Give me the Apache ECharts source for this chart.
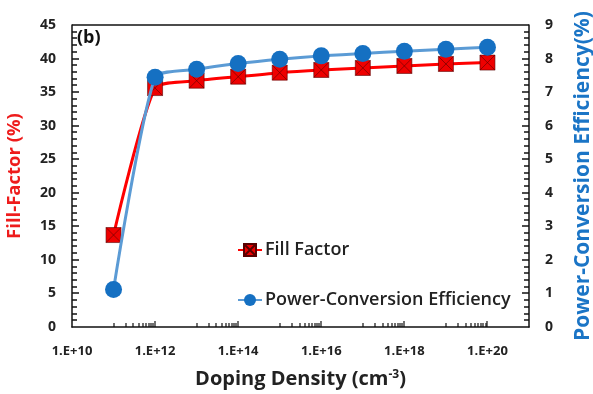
<!DOCTYPE html>
<html>
<head>
<meta charset="utf-8">
<script src="https://cdn.jsdelivr.net/npm/echarts@6/dist/echarts.min.js"></script>
<style>
  html, body { margin: 0; padding: 0; background: #fff; }
  #chart { width: 593px; height: 394px; }
</style>
</head>
<body>
<div id="chart"></div>
<script>
// doping density (cm^-3)
const doping = [1e11, 1e12, 1e13, 1e14, 1e15, 1e16, 1e17, 1e18, 1e19, 1e20]
// fill factor (%) - left axis
const fillFactor = [13.7, 35.6, 36.7, 37.3, 37.9, 38.3, 38.6, 38.9, 39.2, 39.4]
// power-conversion efficiency (%) - right axis
const pce = [1.12, 7.44, 7.68, 7.85, 7.98, 8.08, 8.15, 8.22, 8.28, 8.34]

const font = '"Open Sans", sans-serif'
const myChart = echarts.init(document.getElementById('chart'))

const option = {
  animation: false,
  grid: { left: 72, right: 64, top: 25, bottom: 67, containLabel: false, outerBoundsMode: 'none' },
  graphic: [],
  legend: {
    orient: 'vertical',
    left: 232,
    top: 236,
    itemGap: 32,
    itemWidth: 24,
    itemHeight: 15,
    textStyle: { fontFamily: font, fontSize: 18, fontWeight: 600, color: '#222', padding: [0, 0, 0, -2] },
    data: ['Fill Factor', 'Power-Conversion Efficiency']
  },
  xAxis: {
    type: 'value',
    min: 10,
    max: 21,
    interval: 2,
    name: 'Doping Density (cm{sup|-3})',
    nameLocation: 'middle',
    nameGap: 42,
    nameTextStyle: {
      fontFamily: font, fontSize: 20, fontWeight: 'bold', color: '#222',
      rich: { sup: { fontFamily: font, fontSize: 12, fontWeight: 'bold', color: '#222', verticalAlign: 'top', padding: [0, 0, 9, 0] } }
    },
    axisLine: { show: true, lineStyle: { color: '#111', width: 1.5 } },
    axisTick: { show: false },
    axisLabel: {
      showMaxLabel: false,
      fontFamily: font, fontSize: 13, fontWeight: 'bold', color: '#222', margin: 18,
      formatter: v => (v % 2 === 0 ? '1.E+' + v : '')
    },
    splitLine: { show: false }
  },
  yAxis: [
    {
      type: 'value',
      min: 0,
      max: 45,
      interval: 5,
      name: 'Fill-Factor (%)',
      nameLocation: 'middle',
      nameGap: 48,
      nameTextStyle: { fontFamily: font, fontSize: 18.5, fontWeight: 'bold', color: '#ee1c1c' },
      axisLine: { show: true, lineStyle: { color: '#111', width: 1.5 } },
      axisTick: { show: false },
      axisLabel: { fontFamily: font, fontSize: 14, fontWeight: 'bold', color: '#222', margin: 16 },
      splitLine: { show: false }
    },
    {
      type: 'value',
      min: 0,
      max: 9,
      interval: 1,
      name: 'Power-Conversion Efficiency(%)',
      nameLocation: 'middle',
      nameGap: 44,
      nameRotate: 90,
      nameTextStyle: { fontFamily: font, fontSize: 21, fontWeight: 'bold', color: '#1b75c6' },
      axisLine: { show: true, lineStyle: { color: '#111', width: 1.5 } },
      axisTick: { show: false },
      axisLabel: { fontFamily: font, fontSize: 14, fontWeight: 'bold', color: '#222', margin: 16 },
      splitLine: { show: false }
    }
  ],
  series: [
    {
      name: 'Fill Factor',
      type: 'line',
      yAxisIndex: 0,
      smooth: 0.2,
      symbol: 'path://M0,0H10V10H0Z M0,0L10,10 M10,0L0,10',
      symbolSize: 15,
      lineStyle: { color: '#ff0000', width: 3 },
      itemStyle: { color: '#ee0000', borderColor: '#5a0000', borderWidth: 0.6 },
      data: doping.map((d, i) => [Math.log10(d), fillFactor[i]]),
      z: 2
    },
    {
      name: 'Power-Conversion Efficiency',
      type: 'line',
      yAxisIndex: 1,
      smooth: 0.2,
      symbol: 'circle',
      symbolSize: 17,
      lineStyle: { color: '#5b9bd5', width: 3 },
      itemStyle: { color: '#1570c2', borderColor: '#1570c2', borderWidth: 0 },
      data: doping.map((d, i) => [Math.log10(d), pce[i]]),
      z: 3
    }
  ]
}
myChart.setOption(option)

// frame, tick marks (Excel style, inside) and the panel label
const L = { xAxisIndex: 0, yAxisIndex: 0 }
const R = { xAxisIndex: 0, yAxisIndex: 1 }
const tl = myChart.convertToPixel(L, [10, 45])
const br = myChart.convertToPixel(L, [21, 0])
const g = []
// ticks drawn as small filled rects
const box = (x, y, w, h) => g.push({
  type: 'rect', silent: true, z: 1,
  shape: { x: x, y: y, width: w, height: h },
  style: { fill: '#111' }
})
box(tl[0], tl[1] - 0.75, br[0] - tl[0], 1.5)
for (let v = 1; v < 45; v++) {
  const y = Math.round(myChart.convertToPixel(L, [10, v])[1])
  box(tl[0], y - 0.75, v % 5 === 0 ? 7 : 5, 1.5)
}
for (let k = 1; k < 45; k++) {
  const y = Math.round(myChart.convertToPixel(R, [10, k / 5])[1])
  const len = k % 5 === 0 ? 7 : 5
  box(br[0] - len, y - 0.75, len, 1.5)
}
for (let e = 11; e <= 19; e += 2) {
  for (let m = 1; m <= 9; m++) {
    const x = Math.round(myChart.convertToPixel(L, [e + Math.log10(m), 0])[0])
    box(x - 0.6, br[1] - 4, 1.2, 4)
  }
  const xm = Math.round(myChart.convertToPixel(L, [e + 1, 0])[0])
  box(xm - 0.6, br[1] - 6, 1.2, 6)
}
g.push({
  type: 'text', left: tl[0] + 5, top: tl[1] + 4,
  style: { text: '(b)', font: 'bold 18px ' + font, fill: '#111' }
})
myChart.setOption({ graphic: g })

window.addEventListener('resize', function() {
  myChart.resize()
})
</script>
</body>
</html>
